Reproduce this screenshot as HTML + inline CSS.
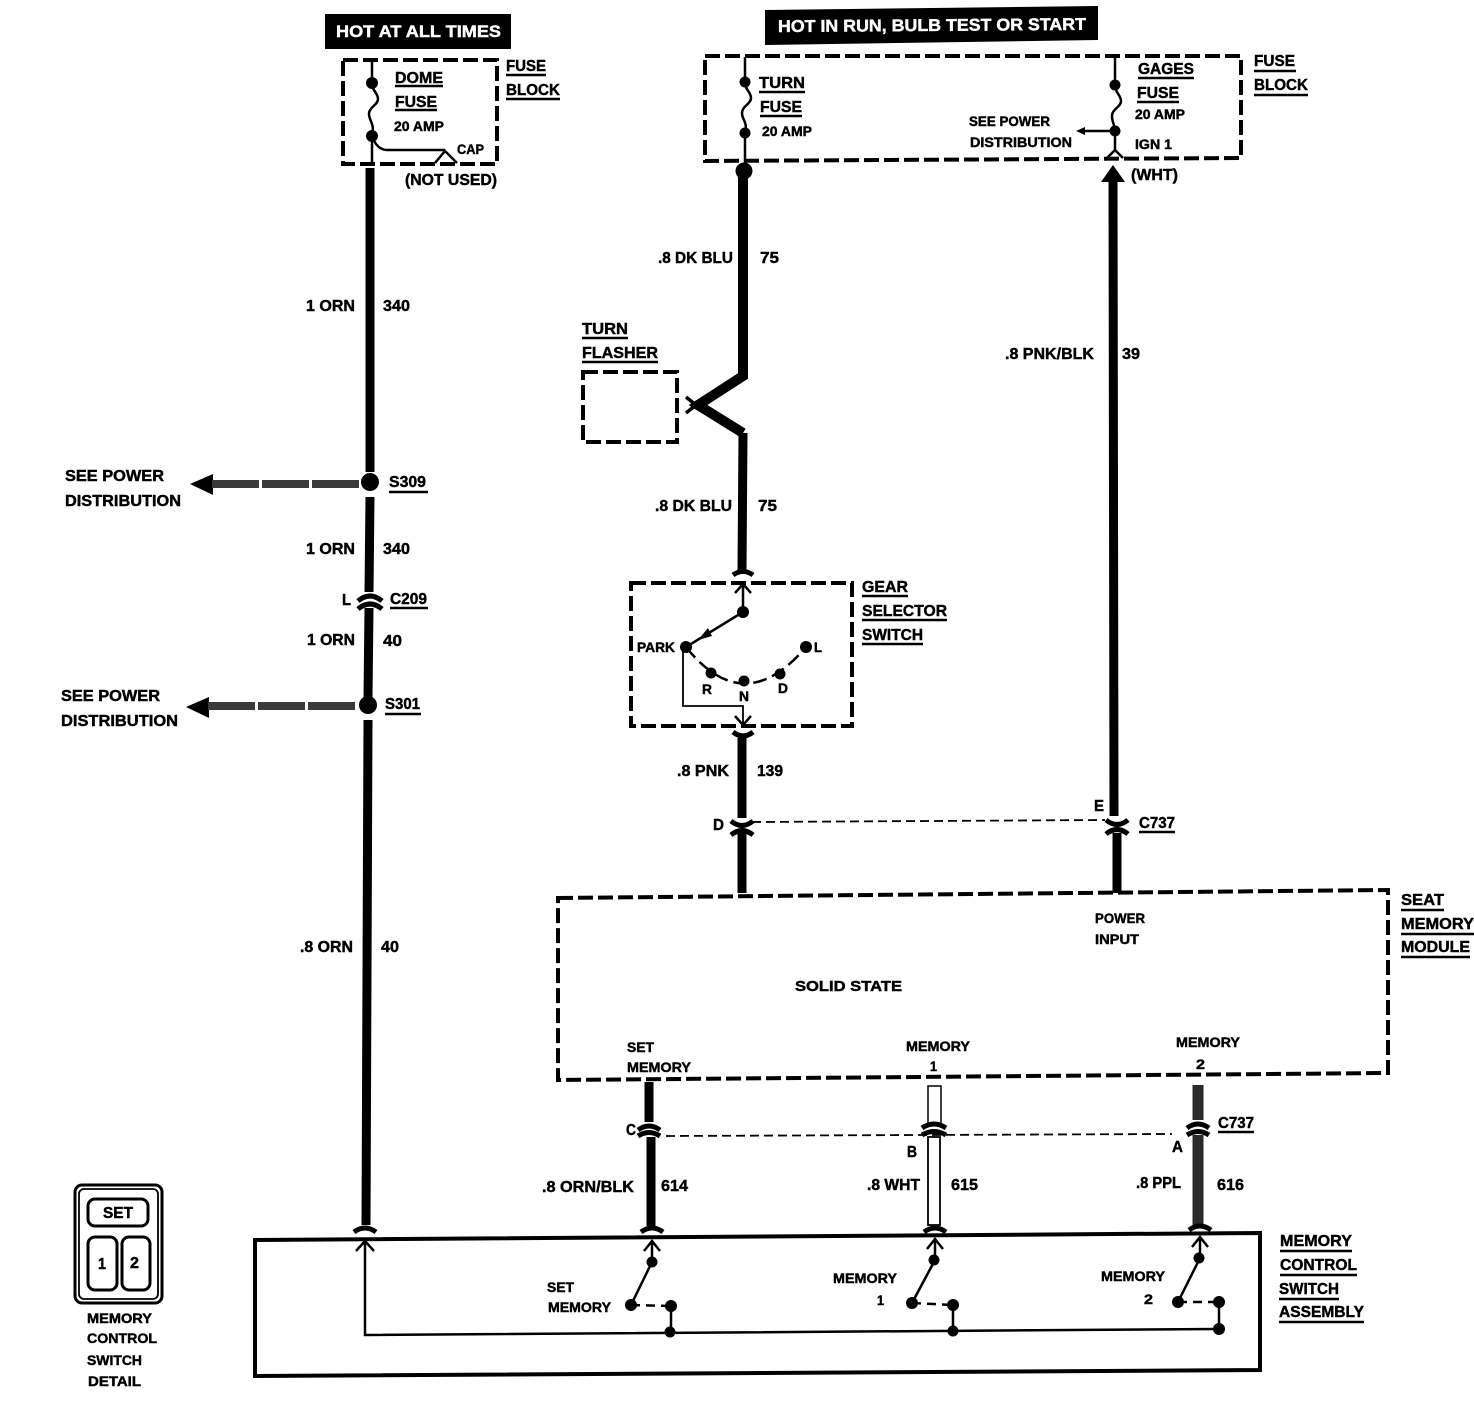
<!DOCTYPE html>
<html><head><meta charset="utf-8"><style>
html,body{margin:0;padding:0;background:#fff}
svg{display:block}
text{font-family:"Liberation Sans",sans-serif;font-weight:bold;font-size:16px;fill:#000;stroke:#000;stroke-width:.45}
.s{font-size:14px}
.w{fill:#fff;stroke:#fff;font-size:17px}
.d{fill:none;stroke:#000;stroke-width:4;stroke-dasharray:15 5}
.l{fill:none;stroke:#000;stroke-width:2.5}
.h{fill:none;stroke:#000;stroke-width:9}
.c{fill:none;stroke:#000;stroke-width:5}
.u{stroke:#000;stroke-width:2.5}
</style></head><body>
<svg width="1474" height="1408" viewBox="0 0 1474 1408" xmlns="http://www.w3.org/2000/svg">
<rect width="1474" height="1408" fill="#fff"/>
<!-- banners -->
<rect x="325" y="14" width="186" height="35"/>
<polygon points="765,10 1098,6 1098,40 765,45"/>
<text class="w" x="336" y="37" textLength="165" lengthAdjust="spacingAndGlyphs">HOT AT ALL TIMES</text>
<text class="w" x="778" y="32" textLength="308" lengthAdjust="spacingAndGlyphs" transform="rotate(-.4 778 32)">HOT IN RUN, BULB TEST OR START</text>

<!-- dome fuse block -->
<rect class="d" x="343" y="60" width="154" height="104"/>
<path class="l" d="M372 60V83M372 83c0 8 6 10 6 16s-9 8-9 15 6 9 3 22V164"/>
<circle cx="372" cy="83" r="6"/><circle cx="372" cy="136" r="6"/>
<path class="l" d="M372 136q5 14 15 14H445M435 163L445 151L457 163"/>
<text x="395" y="83" textLength="48" lengthAdjust="spacingAndGlyphs">DOME</text><line class="u" x1="395" y1="86" x2="443" y2="86"/>
<text x="395" y="107" textLength="42" lengthAdjust="spacingAndGlyphs">FUSE</text><line class="u" x1="395" y1="110" x2="437" y2="110"/>
<text class="s" x="394" y="131" textLength="50" lengthAdjust="spacingAndGlyphs">20 AMP</text>
<text class="s" x="457" y="154" textLength="27" lengthAdjust="spacingAndGlyphs">CAP</text>
<text x="405" y="185" textLength="92" lengthAdjust="spacingAndGlyphs">(NOT USED)</text>
<text x="506" y="71" textLength="40" lengthAdjust="spacingAndGlyphs">FUSE</text><line class="u" x1="506" y1="75" x2="546" y2="75"/>
<text x="506" y="95" textLength="54" lengthAdjust="spacingAndGlyphs">BLOCK</text><line class="u" x1="506" y1="99" x2="560" y2="99"/>

<!-- left wire -->
<path class="h" d="M370 168V472M370 497L369 592M369 608L368 698M368 720L366 1225"/>
<circle cx="370" cy="482" r="9"/><circle cx="368" cy="705" r="9"/>
<path class="c" d="M358 601q12-10 24 0M358 609q12-10 24 0"/>
<polygon points="190,484 213,474 213,495"/>
<line x1="212" y1="484" x2="359" y2="484" stroke="#3a3a3a" stroke-width="8" stroke-dasharray="47 3"/>
<polygon points="186,707 209,697 209,718"/>
<line x1="208" y1="706" x2="356" y2="706" stroke="#3a3a3a" stroke-width="8" stroke-dasharray="47 3"/>
<text x="306" y="311" textLength="49" lengthAdjust="spacingAndGlyphs">1 ORN</text><text x="383" y="311" textLength="27" lengthAdjust="spacingAndGlyphs">340</text>
<text x="65" y="481" textLength="99" lengthAdjust="spacingAndGlyphs">SEE POWER</text>
<text x="65" y="506" textLength="116" lengthAdjust="spacingAndGlyphs">DISTRIBUTION</text>
<text x="389" y="487" textLength="37" lengthAdjust="spacingAndGlyphs">S309</text><line class="u" x1="389" y1="492" x2="428" y2="492"/>
<text x="306" y="554" textLength="49" lengthAdjust="spacingAndGlyphs">1 ORN</text><text x="383" y="554" textLength="27" lengthAdjust="spacingAndGlyphs">340</text>
<text x="342" y="605" textLength="9" lengthAdjust="spacingAndGlyphs">L</text>
<text x="390" y="604" textLength="37" lengthAdjust="spacingAndGlyphs">C209</text><line class="u" x1="390" y1="608" x2="428" y2="608"/>
<text x="307" y="645" textLength="48" lengthAdjust="spacingAndGlyphs">1 ORN</text><text x="383" y="646" textLength="19" lengthAdjust="spacingAndGlyphs">40</text>
<text x="61" y="701" textLength="99" lengthAdjust="spacingAndGlyphs">SEE POWER</text>
<text x="61" y="726" textLength="117" lengthAdjust="spacingAndGlyphs">DISTRIBUTION</text>
<text x="385" y="709" textLength="35" lengthAdjust="spacingAndGlyphs">S301</text><line class="u" x1="385" y1="714" x2="421" y2="714"/>
<text x="300" y="952" textLength="53" lengthAdjust="spacingAndGlyphs">.8 ORN</text><text x="381" y="952" textLength="18" lengthAdjust="spacingAndGlyphs">40</text>

<!-- top right fuse block -->
<path class="d" d="M705 56H1241V158L705 161Z"/>
<path class="l" d="M745 57V82c0 8 6 10 6 16s-9 8-9 15 6 9 3 20V165"/>
<circle cx="745" cy="82" r="5.5"/><circle cx="745" cy="133" r="5.5"/>
<text x="759" y="88" textLength="46" lengthAdjust="spacingAndGlyphs">TURN</text><line class="u" x1="759" y1="92" x2="805" y2="92"/>
<text x="760" y="112" textLength="42" lengthAdjust="spacingAndGlyphs">FUSE</text><line class="u" x1="760" y1="116" x2="802" y2="116"/>
<text class="s" x="762" y="136" textLength="50" lengthAdjust="spacingAndGlyphs">20 AMP</text>
<path class="l" d="M1115 56V85c0 8 6 10 6 16s-9 8-9 15 3 9 3 15V150M1107 158L1115 150L1123 158M1115 131H1083"/>
<circle cx="1115" cy="85" r="5.5"/><circle cx="1115" cy="131" r="5.5"/>
<polygon points="1076,131 1085,127 1085,135"/>
<text x="1138" y="74" textLength="56" lengthAdjust="spacingAndGlyphs">GAGES</text><line class="u" x1="1138" y1="78" x2="1194" y2="78"/>
<text x="1137" y="98" textLength="42" lengthAdjust="spacingAndGlyphs">FUSE</text><line class="u" x1="1137" y1="102" x2="1179" y2="102"/>
<text class="s" x="1135" y="119" textLength="50" lengthAdjust="spacingAndGlyphs">20 AMP</text>
<text class="s" x="969" y="126" textLength="81" lengthAdjust="spacingAndGlyphs">SEE POWER</text>
<text class="s" x="970" y="147" textLength="102" lengthAdjust="spacingAndGlyphs">DISTRIBUTION</text>
<text class="s" x="1135" y="149" textLength="37" lengthAdjust="spacingAndGlyphs">IGN 1</text>
<text x="1131" y="180" textLength="47" lengthAdjust="spacingAndGlyphs">(WHT)</text>
<text x="1254" y="66" textLength="41" lengthAdjust="spacingAndGlyphs">FUSE</text><line class="u" x1="1254" y1="71" x2="1296" y2="71"/>
<text x="1254" y="90" textLength="54" lengthAdjust="spacingAndGlyphs">BLOCK</text><line class="u" x1="1254" y1="95" x2="1308" y2="95"/>

<!-- turn wire -->
<circle cx="744" cy="171" r="8.5"/>
<path class="h" d="M743 172V376L698 405L743 433" style="stroke-width:10"/>
<path class="h" d="M743 433L742 570"/>
<path class="l" d="M686 397L696 405L686 413" style="stroke-width:3.5"/>
<path class="c" d="M733 575q10-7 20 0"/>
<text x="658" y="263" textLength="75" lengthAdjust="spacingAndGlyphs">.8 DK BLU</text><text x="760" y="263" textLength="19" lengthAdjust="spacingAndGlyphs">75</text>
<text x="582" y="334" textLength="46" lengthAdjust="spacingAndGlyphs">TURN</text><line class="u" x1="582" y1="338" x2="628" y2="338"/>
<text x="582" y="358" textLength="76" lengthAdjust="spacingAndGlyphs">FLASHER</text><line class="u" x1="582" y1="362" x2="658" y2="362"/>
<rect class="d" x="583" y="372" width="94" height="70"/>
<text x="655" y="511" textLength="77" lengthAdjust="spacingAndGlyphs">.8 DK BLU</text><text x="758" y="511" textLength="19" lengthAdjust="spacingAndGlyphs">75</text>

<!-- gear selector -->
<rect class="d" x="631" y="583" width="221" height="143"/>
<path class="l" d="M743 612V586M735 593L743 584L751 593M743 612L686 647"/>
<path fill="none" stroke="#000" stroke-width="1.8" d="M683 647V706H743V725"/>
<path class="l" d="M735 716L743 725L751 716"/>
<path fill="none" stroke="#000" stroke-width="2.5" stroke-dasharray="14 6" d="M686 647Q744 720 806 647"/>
<polygon points="698,640 708,628 712,636"/>
<circle cx="743" cy="612" r="6"/><circle cx="686" cy="647" r="6"/><circle cx="711" cy="673" r="5.5"/><circle cx="744" cy="681" r="5.5"/><circle cx="780" cy="674" r="5.5"/><circle cx="806" cy="647" r="6"/>
<text class="s" x="637" y="652" textLength="38" lengthAdjust="spacingAndGlyphs">PARK</text>
<text class="s" x="814" y="652" textLength="8" lengthAdjust="spacingAndGlyphs">L</text>
<text class="s" x="702" y="694" textLength="10" lengthAdjust="spacingAndGlyphs">R</text>
<text class="s" x="739" y="701" textLength="10" lengthAdjust="spacingAndGlyphs">N</text>
<text class="s" x="778" y="693" textLength="10" lengthAdjust="spacingAndGlyphs">D</text>
<text x="862" y="592" textLength="46" lengthAdjust="spacingAndGlyphs">GEAR</text><line class="u" x1="862" y1="596" x2="908" y2="596"/>
<text x="862" y="616" textLength="85" lengthAdjust="spacingAndGlyphs">SELECTOR</text><line class="u" x1="862" y1="620" x2="947" y2="620"/>
<text x="862" y="640" textLength="61" lengthAdjust="spacingAndGlyphs">SWITCH</text><line class="u" x1="862" y1="644" x2="923" y2="644"/>
<path class="c" d="M733 732q10 8 20 0"/>
<path class="h" d="M742 738V818M742 833V893"/>
<path class="c" d="M731 821q11 9 22 0M731 835q11-9 22 0"/>
<text x="677" y="776" textLength="52" lengthAdjust="spacingAndGlyphs">.8 PNK</text><text x="757" y="776" textLength="26" lengthAdjust="spacingAndGlyphs">139</text>
<text x="713" y="830" textLength="11" lengthAdjust="spacingAndGlyphs">D</text>
<line x1="752" y1="822" x2="1105" y2="820" stroke="#000" stroke-width="1.8" stroke-dasharray="9 5"/>

<!-- right wire -->
<polygon points="1101,182 1113,165 1125,182"/>
<path class="h" d="M1113 176L1114 816M1117 833V893"/>
<path class="c" d="M1106 820q11 9 22 0M1106 834q11-9 22 0"/>
<text x="1005" y="359" textLength="89" lengthAdjust="spacingAndGlyphs">.8 PNK/BLK</text><text x="1122" y="359" textLength="18" lengthAdjust="spacingAndGlyphs">39</text>
<text x="1094" y="811" textLength="10" lengthAdjust="spacingAndGlyphs">E</text>
<text x="1139" y="828" textLength="36" lengthAdjust="spacingAndGlyphs">C737</text><line class="u" x1="1139" y1="832" x2="1175" y2="832"/>

<!-- module -->
<path class="d" d="M558 898L1388 890V1073L558 1080Z"/>
<text x="1401" y="905" textLength="43" lengthAdjust="spacingAndGlyphs">SEAT</text><line class="u" x1="1401" y1="910" x2="1444" y2="910"/>
<text x="1401" y="929" textLength="73" lengthAdjust="spacingAndGlyphs">MEMORY</text><line class="u" x1="1401" y1="934" x2="1474" y2="934"/>
<text x="1401" y="952" textLength="69" lengthAdjust="spacingAndGlyphs">MODULE</text><line class="u" x1="1401" y1="957" x2="1470" y2="957"/>
<text class="s" x="1095" y="923" textLength="50" lengthAdjust="spacingAndGlyphs">POWER</text>
<text class="s" x="1095" y="944" textLength="44" lengthAdjust="spacingAndGlyphs">INPUT</text>
<text class="s" x="795" y="991" textLength="107" lengthAdjust="spacingAndGlyphs" style="font-size:15px">SOLID STATE</text>
<text class="s" x="627" y="1052" textLength="27" lengthAdjust="spacingAndGlyphs">SET</text>
<text class="s" x="627" y="1072" textLength="64" lengthAdjust="spacingAndGlyphs">MEMORY</text>
<text class="s" x="906" y="1051" textLength="64" lengthAdjust="spacingAndGlyphs">MEMORY</text>
<text class="s" x="930" y="1071" textLength="7" lengthAdjust="spacingAndGlyphs">1</text>
<text class="s" x="1176" y="1047" textLength="64" lengthAdjust="spacingAndGlyphs">MEMORY</text>
<text class="s" x="1196" y="1069" textLength="9" lengthAdjust="spacingAndGlyphs">2</text>

<!-- lower wires -->
<path class="h" d="M649 1082V1122M651 1137V1226"/>
<path class="c" d="M638 1130q11-8 22 0M638 1136q11-7 22 0"/>
<rect x="928" y="1086" width="13" height="37" fill="#fff" stroke="#000" stroke-width="1.5"/>
<rect x="928" y="1137" width="12" height="88" fill="#fff" stroke="#000" stroke-width="1.8"/>
<path class="c" d="M922 1128q12-8 24 0M922 1135q12-7 24 0"/>
<path d="M1198 1085V1120M1198 1135V1226" fill="none" stroke="#2a2a2a" stroke-width="11"/>
<path class="c" d="M1187 1128q11-8 22 0M1187 1135q11-7 22 0"/>
<line x1="666" y1="1136" x2="1172" y2="1134" stroke="#000" stroke-width="1.8" stroke-dasharray="9 5"/>
<text x="626" y="1135" textLength="10" lengthAdjust="spacingAndGlyphs">C</text>
<text x="907" y="1157" textLength="10" lengthAdjust="spacingAndGlyphs">B</text>
<text x="1172" y="1152" textLength="11" lengthAdjust="spacingAndGlyphs">A</text>
<text x="1218" y="1128" textLength="36" lengthAdjust="spacingAndGlyphs">C737</text><line class="u" x1="1218" y1="1132" x2="1254" y2="1132"/>
<text x="542" y="1192" textLength="92" lengthAdjust="spacingAndGlyphs">.8 ORN/BLK</text><text x="661" y="1191" textLength="27" lengthAdjust="spacingAndGlyphs">614</text>
<text x="867" y="1190" textLength="53" lengthAdjust="spacingAndGlyphs">.8 WHT</text><text x="951" y="1190" textLength="27" lengthAdjust="spacingAndGlyphs">615</text>
<text x="1136" y="1188" textLength="45" lengthAdjust="spacingAndGlyphs">.8 PPL</text><text x="1217" y="1190" textLength="27" lengthAdjust="spacingAndGlyphs">616</text>

<!-- bottom box -->
<path d="M255 1240L1260 1233V1370L255 1376Z" fill="none" stroke="#000" stroke-width="4"/>
<text x="1280" y="1246" textLength="72" lengthAdjust="spacingAndGlyphs">MEMORY</text><line class="u" x1="1280" y1="1251" x2="1352" y2="1251"/>
<text x="1280" y="1270" textLength="77" lengthAdjust="spacingAndGlyphs">CONTROL</text><line class="u" x1="1280" y1="1275" x2="1357" y2="1275"/>
<text x="1279" y="1294" textLength="60" lengthAdjust="spacingAndGlyphs">SWITCH</text><line class="u" x1="1279" y1="1299" x2="1339" y2="1299"/>
<text x="1279" y="1317" textLength="85" lengthAdjust="spacingAndGlyphs">ASSEMBLY</text><line class="u" x1="1279" y1="1322" x2="1364" y2="1322"/>
<path class="c" d="M354 1232q11-8 22 0M641 1232q11-8 22 0M924 1232q11-8 22 0M1189 1230q11-8 22 0"/>
<path class="l" d="M365 1242V1335L1219 1329M356 1251L365 1241L374 1251"/>
<!-- switch 1 -->
<path class="l" d="M652 1242V1262L631 1305M644 1251L652 1241L660 1251M671 1306V1332"/>
<path fill="none" stroke="#000" stroke-width="2.5" stroke-dasharray="9 6" d="M631 1305L671 1306"/>
<circle cx="652" cy="1262" r="5.5"/><circle cx="631" cy="1305" r="6"/><circle cx="671" cy="1306" r="6"/><circle cx="670" cy="1332" r="5.5"/>
<text class="s" x="547" y="1292" textLength="27" lengthAdjust="spacingAndGlyphs">SET</text>
<text class="s" x="548" y="1312" textLength="63" lengthAdjust="spacingAndGlyphs">MEMORY</text>
<!-- switch 2 -->
<path class="l" d="M935 1240V1260L912 1303M927 1249L935 1239L943 1249M953 1305V1331"/>
<path fill="none" stroke="#000" stroke-width="2.5" stroke-dasharray="9 6" d="M912 1303L953 1305"/>
<circle cx="934" cy="1260" r="5.5"/><circle cx="912" cy="1303" r="6"/><circle cx="953" cy="1305" r="6"/><circle cx="953" cy="1331" r="5.5"/>
<text class="s" x="833" y="1283" textLength="64" lengthAdjust="spacingAndGlyphs">MEMORY</text>
<text class="s" x="877" y="1305" textLength="7" lengthAdjust="spacingAndGlyphs">1</text>
<!-- switch 3 -->
<path class="l" d="M1200 1238V1258L1178 1302M1192 1247L1200 1237L1208 1247M1219 1302V1329"/>
<path fill="none" stroke="#000" stroke-width="2.5" stroke-dasharray="9 6" d="M1178 1302L1219 1302"/>
<circle cx="1199" cy="1258" r="5.5"/><circle cx="1178" cy="1302" r="6"/><circle cx="1219" cy="1302" r="6"/><circle cx="1219" cy="1329" r="6"/>
<text class="s" x="1101" y="1281" textLength="64" lengthAdjust="spacingAndGlyphs">MEMORY</text>
<text class="s" x="1144" y="1304" textLength="9" lengthAdjust="spacingAndGlyphs">2</text>

<!-- switch detail -->
<rect x="75" y="1185" width="87" height="118" rx="7" fill="#fff" stroke="#000" stroke-width="3"/>
<rect x="79" y="1189" width="79" height="110" rx="5" fill="none" stroke="#000" stroke-width="1.8"/>
<rect x="88" y="1199" width="60" height="27" rx="7" fill="none" stroke="#000" stroke-width="3"/>
<rect x="88" y="1237" width="29" height="53" rx="7" fill="none" stroke="#000" stroke-width="3"/>
<rect x="122" y="1237" width="28" height="53" rx="7" fill="none" stroke="#000" stroke-width="3"/>
<text x="103" y="1218" textLength="30" lengthAdjust="spacingAndGlyphs">SET</text>
<text x="98" y="1269" textLength="8" lengthAdjust="spacingAndGlyphs">1</text>
<text x="130" y="1268" textLength="9" lengthAdjust="spacingAndGlyphs">2</text>
<text class="s" x="87" y="1323" textLength="65" lengthAdjust="spacingAndGlyphs">MEMORY</text>
<text class="s" x="87" y="1343" textLength="70" lengthAdjust="spacingAndGlyphs">CONTROL</text>
<text class="s" x="87" y="1365" textLength="55" lengthAdjust="spacingAndGlyphs">SWITCH</text>
<text class="s" x="88" y="1386" textLength="53" lengthAdjust="spacingAndGlyphs">DETAIL</text>
</svg>
</body></html>
